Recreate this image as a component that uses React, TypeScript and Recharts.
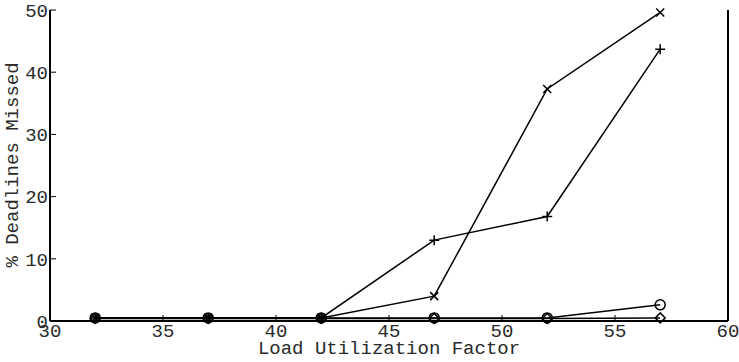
import { LineChart, Line, XAxis, YAxis } from 'recharts'

document.body.style.margin = '0'

const loads = [32, 37, 42, 47, 52, 57]
const crossMissed = [0.5, 0.5, 0.5, 4.0, 37.3, 49.6]
const plusMissed = [0.5, 0.5, 0.5, 13.0, 16.8, 43.7]
const circleMissed = [0.5, 0.5, 0.5, 0.5, 0.5, 2.6]
const diamondMissed = [0.4, 0.4, 0.4, 0.4, 0.4, 0.5]

const xTicks = [30, 35, 40, 45, 50, 55, 60]
const yTicks = [0, 10, 20, 30, 40, 50]

const data = loads.map((load, i) => ({
  load,
  cross: crossMissed[i],
  plus: plusMissed[i],
  circle: circleMissed[i],
  diamond: diamondMissed[i],
}))

const FONT = '"Liberation Mono", "DejaVu Sans Mono", monospace'
const FS = 19
const TICK = 6

// eslint-disable-next-line @typescript-eslint/no-explicit-any
function BottomTick({ x, y, payload }: any) {
  return (
    <g>
      <line x1={x} x2={x} y1={y - 2} y2={y - 2 - TICK} stroke="#000" strokeWidth={1} />
      <text x={x} y={y} dy="0.72em" textAnchor="middle" fontFamily={FONT} fontSize={FS} fill="#2a2a2a">
        {payload.value}
      </text>
    </g>
  )
}

// eslint-disable-next-line @typescript-eslint/no-explicit-any
function LeftTick({ x, y, payload }: any) {
  return (
    <g>
      <line x1={x + 2} x2={x + 2 + TICK} y1={y} y2={y} stroke="#000" strokeWidth={1} />
      <text x={x} y={y} dy="0.36em" textAnchor="end" fontFamily={FONT} fontSize={FS} fill="#2a2a2a">
        {payload.value}
      </text>
    </g>
  )
}

// eslint-disable-next-line @typescript-eslint/no-explicit-any
function TopTick({ x, y }: any) {
  return <line x1={x} x2={x} y1={y} y2={y + TICK} stroke="#000" strokeWidth={1} />
}

// eslint-disable-next-line @typescript-eslint/no-explicit-any
function RightTick({ x, y }: any) {
  return <line x1={x} x2={x - TICK} y1={y} y2={y} stroke="#000" strokeWidth={1} />
}

// eslint-disable-next-line @typescript-eslint/no-explicit-any
function CrossDot({ cx, cy }: any) {
  const s = 4
  return (
    <path d={`M${cx - s},${cy - s}L${cx + s},${cy + s}M${cx - s},${cy + s}L${cx + s},${cy - s}`} stroke="#000" strokeWidth={1.5} fill="none" />
  )
}

// eslint-disable-next-line @typescript-eslint/no-explicit-any
function PlusDot({ cx, cy }: any) {
  const s = 5
  return <path d={`M${cx - s},${cy}L${cx + s},${cy}M${cx},${cy - s}L${cx},${cy + s}`} stroke="#000" strokeWidth={1.5} fill="none" />
}

// eslint-disable-next-line @typescript-eslint/no-explicit-any
function CircleDot({ cx, cy }: any) {
  return <circle cx={cx} cy={cy} r={5} stroke="#000" strokeWidth={1.5} fill="none" />
}

// eslint-disable-next-line @typescript-eslint/no-explicit-any
function DiamondDot({ cx, cy }: any) {
  const s = 5
  return <path d={`M${cx},${cy - s}L${cx + s},${cy}L${cx},${cy + s}L${cx - s},${cy}Z`} stroke="#000" strokeWidth={1.5} fill="none" />
}

export default function App() {
  return (
    <div style={{ position: 'relative', width: 739, height: 362, background: '#fff' }}>
      <LineChart width={739} height={362} data={data} margin={{ top: 10, right: 10, bottom: 0, left: 0 }}>
        <XAxis
          xAxisId="bottom"
          dataKey="load"
          type="number"
          domain={[30, 60]}
          ticks={xTicks}
          orientation="bottom"
          height={41}
          tickSize={0}
          tickMargin={2}
          tick={<BottomTick />}
          axisLine={{ stroke: '#000', strokeWidth: 2 }}
          tickLine={false}
          interval={0}
        />
        <XAxis
          xAxisId="top"
          dataKey="load"
          type="number"
          domain={[30, 60]}
          ticks={xTicks}
          orientation="top"
          height={0}
          tickSize={0}
          tickMargin={0}
          tick={<TopTick />}
          axisLine={{ stroke: '#000', strokeWidth: 2 }}
          tickLine={false}
          interval={0}
        />
        <YAxis
          yAxisId="left"
          domain={[0, 50]}
          ticks={yTicks}
          width={50}
          tickSize={0}
          tickMargin={2}
          tick={<LeftTick />}
          axisLine={{ stroke: '#000', strokeWidth: 2 }}
          tickLine={false}
          interval={0}
        />
        <YAxis
          yAxisId="right"
          orientation="right"
          domain={[0, 50]}
          ticks={yTicks}
          width={1}
          tickSize={0}
          tickMargin={0}
          tick={<RightTick />}
          axisLine={{ stroke: '#000', strokeWidth: 2 }}
          tickLine={false}
          interval={0}
        />
        <Line xAxisId="bottom" yAxisId="left" dataKey="diamond" stroke="#000" strokeWidth={1.5} dot={<DiamondDot />} isAnimationActive={false} />
        <Line xAxisId="bottom" yAxisId="left" dataKey="circle" stroke="#000" strokeWidth={1.5} dot={<CircleDot />} isAnimationActive={false} />
        <Line xAxisId="bottom" yAxisId="left" dataKey="plus" stroke="#000" strokeWidth={1.5} dot={<PlusDot />} isAnimationActive={false} />
        <Line xAxisId="bottom" yAxisId="left" dataKey="cross" stroke="#000" strokeWidth={1.5} dot={<CrossDot />} isAnimationActive={false} />
      </LineChart>
      <div
        style={{
          position: 'absolute',
          left: 0,
          width: 778,
          top: 339,
          textAlign: 'center',
          fontFamily: FONT,
          fontSize: FS,
          color: '#2a2a2a',
          lineHeight: '20px',
        }}
      >
        Load Utilization Factor
      </div>
      <div
        style={{
          position: 'absolute',
          left: 13,
          top: 165,
          transform: 'translate(-50%, -50%) rotate(-90deg)',
          whiteSpace: 'nowrap',
          fontFamily: FONT,
          fontSize: FS,
          color: '#2a2a2a',
        }}
      >
        % Deadlines Missed
      </div>
    </div>
  )
}
